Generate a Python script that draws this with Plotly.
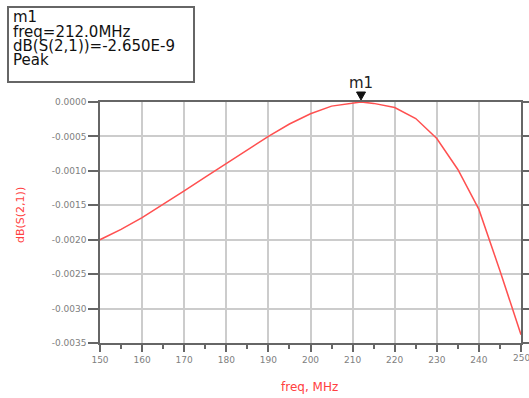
import plotly.graph_objects as go

freq = [150, 155, 160, 165, 170, 175, 180, 185, 190, 195, 200, 205, 210, 212,
        215, 220, 225, 230, 235, 240, 245, 250]
s21_db = [-0.00200, -0.00185, -0.00168, -0.00149, -0.00129, -0.00109, -0.00089,
          -0.00069, -0.00050, -0.00032, -0.00017, -0.00006, -0.00001, -2.65e-9,
          -0.00002, -0.00008, -0.00024, -0.00053, -0.00098, -0.00156, -0.00245,
          -0.00338]

x_ticks = [150, 160, 170, 180, 190, 200, 210, 220, 230, 240, 250]
y_ticks = [0.0, -0.0005, -0.0010, -0.0015, -0.0020, -0.0025, -0.0030, -0.0035]
y_ticktext = ["0.0000", "-0.0005", "-0.0010", "-0.0015", "-0.0020", "-0.0025",
              "-0.0030", "-0.0035"]

marker_name = "m1"
marker_freq = 212.0
marker_val = -2.650e-9
marker_lines = ["m1", "freq=212.0MHz", "dB(S(2,1))=-2.650E-9", "Peak"]

L, R, T, B = 100, 8, 102, 55
W, H = 529, 398
pw = W - L - R
ph = H - T - B

def px(x):
    return (x - L) / pw

def py(y):
    return (H - B - y) / ph

fig = go.Figure()
fig.add_trace(go.Scatter(x=freq, y=s21_db, mode="lines",
                         line=dict(color="#ff5050", width=1.5),
                         showlegend=False, hoverinfo="skip", cliponaxis=False))

font_tick = dict(family="DejaVu Sans", size=9, color="#808080")
grid_c = "#cccccc"
axis_c = "#666666"

# last tick label sits at the figure edge; draw it as an annotation so it is not dropped
x_ticktext = [str(v) for v in x_ticks[:-1]] + [""]

fig.update_xaxes(range=[150, 250], tickvals=x_ticks, ticktext=x_ticktext,
                 showgrid=True, gridcolor=grid_c, gridwidth=1.5, automargin=False,
                 showline=True, linecolor=axis_c, linewidth=1.5, mirror=True,
                 ticks="outside", ticklen=7, tickcolor=axis_c, tickwidth=1.5,
                 tickfont=font_tick, zeroline=False,
                 minor=dict(ticks="outside", dtick=5, tick0=150, ticklen=4,
                            tickcolor=axis_c, showgrid=False))
fig.update_yaxes(range=[-0.0035, 0.0], tickvals=y_ticks, ticktext=y_ticktext,
                 showgrid=True, gridcolor=grid_c, gridwidth=1.5, automargin=False,
                 showline=True, linecolor=axis_c, linewidth=1.5, mirror="ticks",
                 ticks="outside", ticklen=10, tickcolor=axis_c, tickwidth=1.5,
                 tickfont=font_tick, zeroline=False)

annotations = []
annotations.append(dict(x=x_ticks[-1], xref="x", yref="paper", y=py(358),
                        text=str(x_ticks[-1]), showarrow=False,
                        xanchor="center", yanchor="middle", font=font_tick))
# marker readout box lines
line_y = [17, 32, 46, 60]
for txt, yy in zip(marker_lines, line_y):
    annotations.append(dict(xref="paper", yref="paper", x=px(11), y=py(yy),
                            xanchor="left", yanchor="middle", text=txt, showarrow=False,
                            font=dict(family="DejaVu Sans", size=15, color="#111111")))
# marker label
annotations.append(dict(x=marker_freq, y=0, xref="x", yref="y", text=marker_name,
                        showarrow=False, yanchor="bottom", yshift=8,
                        font=dict(family="DejaVu Sans", size=15, color="#222222")))
# axis titles
annotations.append(dict(xref="paper", yref="paper", x=px(20), y=py(215), text="dB(S(2,1))",
                        textangle=-90, showarrow=False, xanchor="center", yanchor="middle",
                        font=dict(family="DejaVu Sans", size=11, color="#ff4040")))
annotations.append(dict(xref="paper", yref="paper", x=px(309), y=py(387), text="freq, MHz",
                        showarrow=False, xanchor="center", yanchor="middle",
                        font=dict(family="DejaVu Sans", size=12, color="#ff4040")))

shapes = [
    dict(type="rect", xref="paper", yref="paper",
         x0=px(8), x1=px(194), y0=py(82), y1=py(7),
         line=dict(color="#666666", width=2), fillcolor="rgba(0,0,0,0)"),
    # marker triangle anchored at the marker frequency, just above the plot top
    dict(type="path", xref="x", yref="paper", xsizemode="pixel", ysizemode="pixel",
         xanchor=marker_freq, yanchor=1,
         path="M -4.5,10 L 4.5,10 L 0,2 Z",
         fillcolor="#111111", line=dict(color="#111111", width=1)),
]

fig.update_layout(
    width=W, height=H,
    margin=dict(l=L, r=R, t=T, b=B),
    paper_bgcolor="white", plot_bgcolor="white",
    annotations=annotations,
    shapes=shapes,
)

fig.write_html("out.html", config={"displayModeBar": False},
               post_script="document.body.style.margin='0';document.body.style.overflow='hidden';")
